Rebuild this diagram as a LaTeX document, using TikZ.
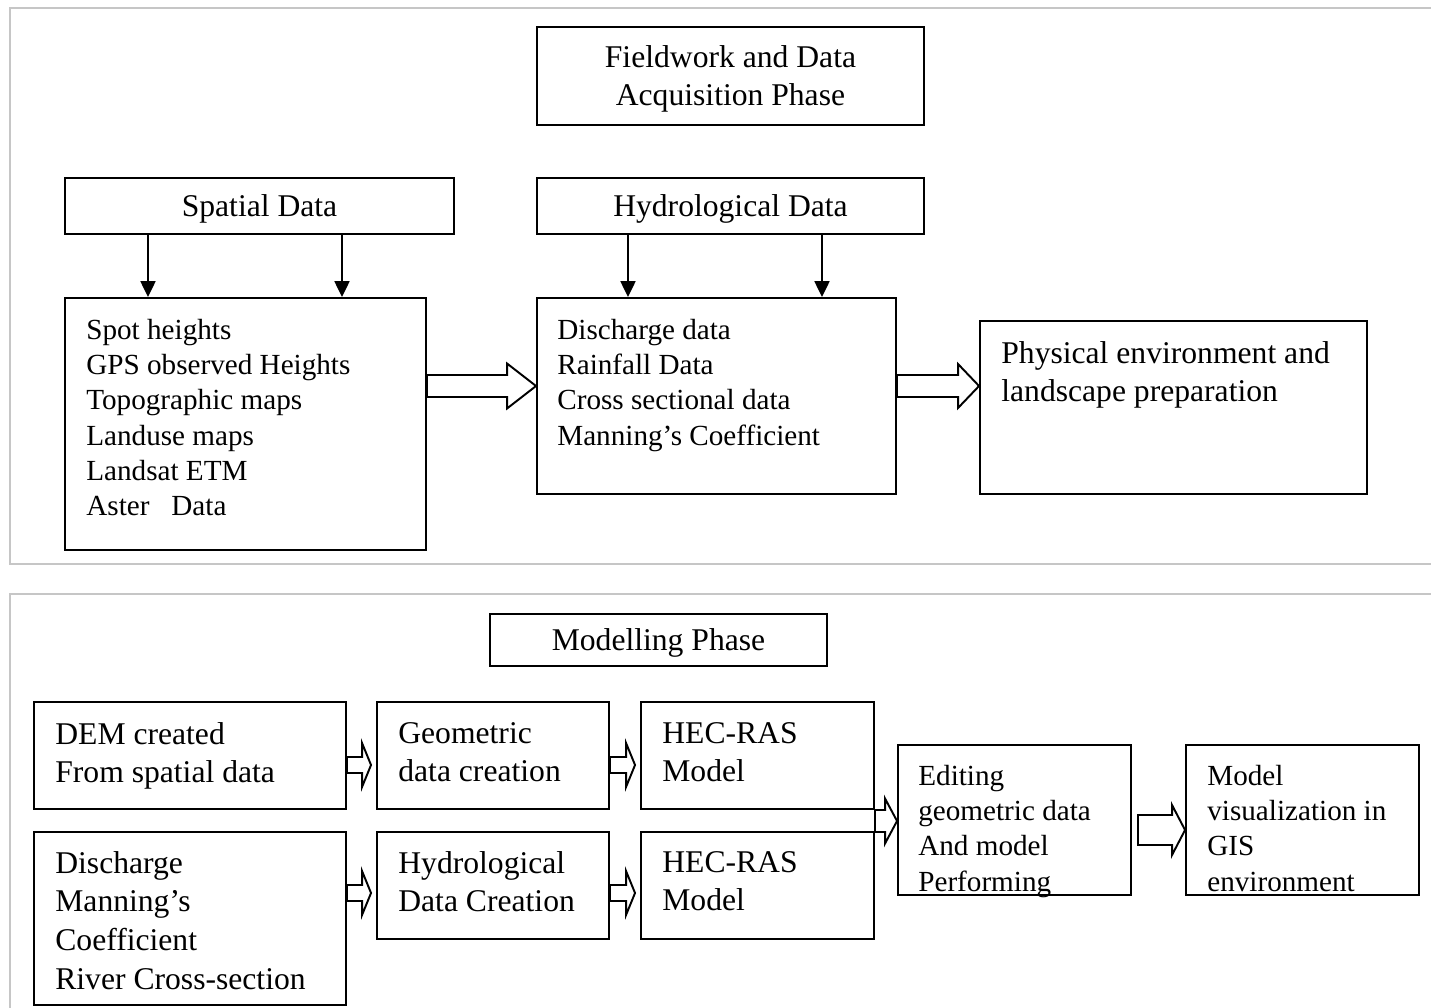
\documentclass[tikz,border=0pt]{standalone}
\usepackage{fontspec}
\setmainfont{Liberation Serif}
\usetikzlibrary{calc, positioning, fit, arrows.meta}

\tikzset{
  panel/.style={draw=gray!45, line width=1.3pt},
  box/.style={draw, line width=1.1pt, inner sep=0pt},
  head/.style={font=\fontsize{18}{21.5}\selectfont, align=center, inner sep=0pt, yshift=-0.06cm},
  small/.style={font=\fontsize{16.6}{20}\selectfont, align=left, inner sep=0pt, anchor=north west},
  big/.style={font=\fontsize{18}{22}\selectfont, align=left, inner sep=0pt, anchor=north west},
  down/.style={line width=1.1pt, -{Triangle[length=9pt,width=8.5pt]}},
  hollow/.style={line width=1.1pt, fill=white, line join=miter},
}

% hollow block arrow: tail, tip, half shaft, half head, head length
\newcommand{\hollowarrow}[5]{%
  \draw[hollow] ($(#1)+(0,#3)$) -- ($(#2)+(-#5,#3)$) -- ($(#2)+(-#5,#4)$) -- (#2)
    -- ($(#2)+(-#5,-#4)$) -- ($(#2)+(-#5,-#3)$) -- ($(#1)+(0,-#3)$) -- cycle;}

\begin{document}
\begin{tikzpicture}[x=0.02cm, y=-0.02cm]
    \useasboundingbox (0,0) rectangle (1431,1008);

    % the two phase panels
    \draw[panel] (1431,8) -- (10,8) -- (10,564) -- (1431,564);
    \draw[panel] (1431,594) -- (10,594) -- (10,1008);

    % fieldwork phase
    \node[box, fit={(537,27) (924,125)}] (field) {};
    \node[box, fit={(65,178) (454,234)}] (spatial) {};
    \node[box, fit={(537,178) (924,234)}] (hydro) {};
    \node[head] (fieldT) at (field.center) {Fieldwork and Data\\Acquisition Phase};
    \node[head] (spatialT) at (spatial.center) {Spatial Data};
    \node[head] (hydroT) at (hydro.center) {Hydrological Data};

    \node[box, fit={(65,298) (426,550)}] (spot) {};
    \node[box, fit={(537,298) (896,494)}] (disch) {};
    \node[box, fit={(980,321) (1367,494)}] (phys) {};

    \node[small] (spotT) at (86,319) {Spot heights\\GPS observed Heights\\Topographic maps\\Landuse maps\\Landsat ETM\\Aster\ \ \ Data};
    \node[small] (dischT) at (557,319) {Discharge data\\Rainfall Data\\Cross sectional data\\Manning’s Coefficient};
    \node[big] (physT) at (1001,341) {Physical environment and\\landscape preparation};

    \coordinate (c1) at (148,0);
    \coordinate (c2) at (342,0);
    \coordinate (c3) at (628,0);
    \coordinate (c4) at (822,0);
    \draw[down] (spatial.south -| c1) -- (spot.north -| c1);
    \draw[down] (spatial.south -| c2) -- (spot.north -| c2);
    \draw[down] (hydro.south -| c3) -- (disch.north -| c3);
    \draw[down] (hydro.south -| c4) -- (disch.north -| c4);

    \coordinate (r1) at (0,386);
    \hollowarrow{spot.east |- r1}{disch.west |- r1}{11}{22.5}{29}
    \hollowarrow{disch.east |- r1}{phys.west |- r1}{11}{22}{21}

    % modelling phase
    \node[box, fit={(490,614) (827,666)}] (model) {};
    \node[head] (modelT) at (model.center) {Modelling Phase};

    \node[box, fit={(34,702) (346,809)}] (dem) {};
    \node[box, fit={(377,702) (609,809)}] (geo) {};
    \node[box, fit={(641,702) (874,809)}] (hec1) {};
    \node[box, fit={(34,832) (346,1005)}] (qdata) {};
    \node[box, fit={(377,832) (609,939)}] (hdata) {};
    \node[box, fit={(641,832) (874,939)}] (hec2) {};
    \node[box, fit={(898,745) (1131,895)}] (edit) {};
    \node[box, fit={(1186,745) (1419,895)}] (vis) {};

    \node[big] (demT) at (55,722) {DEM created\\From spatial data};
    \node[big] (geoT) at (398,722) {Geometric\\data creation};
    \node[big] (hec1T) at (662,722) {HEC-RAS\\Model};
    \node[big] (qdataT) at (55,851) {Discharge\\Manning’s\\Coefficient\\River Cross-section};
    \node[big] (hdataT) at (398,851) {Hydrological\\Data Creation};
    \node[big] (hec2T) at (662,851) {HEC-RAS\\Model};
    \node[small] (editT) at (918,765) {Editing\\geometric data\\And model\\Performing};
    \node[small] (visT) at (1207,765) {Model\\visualization in\\GIS\\environment};

    \coordinate (r2) at (0,765);
    \coordinate (r3) at (0,893);
    \coordinate (r4) at (0,821);
    \coordinate (r5) at (0,830);
    \hollowarrow{dem.east |- r2}{[xshift=-0.1cm]geo.west |- r2}{8}{22}{9}
    \hollowarrow{geo.east |- r2}{[xshift=-0.1cm]hec1.west |- r2}{8}{22}{9}
    \hollowarrow{qdata.east |- r3}{[xshift=-0.1cm]hdata.west |- r3}{8}{22}{9}
    \hollowarrow{hdata.east |- r3}{[xshift=-0.1cm]hec2.west |- r3}{8}{22}{9}
    \hollowarrow{hec1.east |- r4}{edit.west |- r4}{11}{22.5}{12}
    \hollowarrow{[xshift=0.12cm]edit.east |- r5}{vis.west |- r5}{15}{25}{13}
\end{tikzpicture}
\end{document}
